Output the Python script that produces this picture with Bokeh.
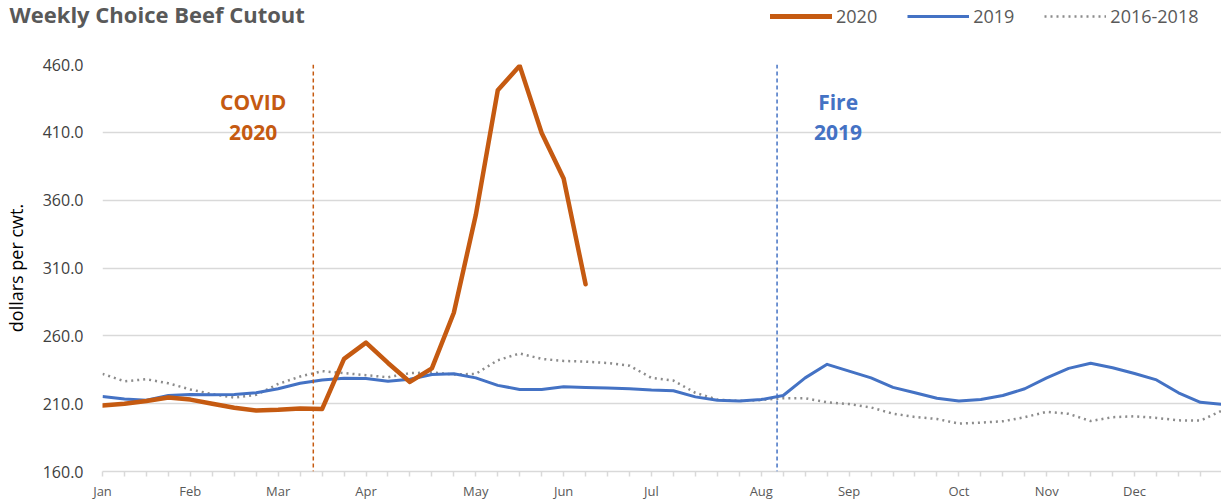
from bokeh.plotting import figure
from bokeh.layouts import column
from bokeh.models import Range1d, FixedTicker, Span, Label, Legend, LegendItem
from bokeh.embed import file_html
from bokeh.resources import INLINE

# ---------------- data ----------------
weeks = list(range(52))
month_labels = ["Jan", "Feb", "Mar", "Apr", "May", "Jun", "Jul", "Aug", "Sep", "Oct", "Nov", "Dec"]
month_weeks = [0, 4, 8, 12, 17, 21, 25, 30, 34, 39, 43, 47]

y_ticks = [160, 210, 260, 310, 360, 410, 460]
y_tick_labels = ["160.0", "210.0", "260.0", "310.0", "360.0", "410.0", "460.0"]

cutout_2020 = [208.6, 210.0, 212.0, 214.5, 213.0, 210.0, 207.0, 205.0, 205.5, 206.5,
               206.0, 243.0, 255.0, 240.0, 226.0, 236.0, 277.0, 349.0, 441.0, 459.0,
               409.5, 376.0, 298.0]

cutout_2019 = [215.3, 213.5, 212.5, 216.0, 216.7, 216.5, 216.8, 218.0, 221.0, 225.0,
               227.5, 228.8, 228.5, 226.5, 228.0, 231.5, 232.0, 229.0, 223.5, 220.5,
               220.5, 222.5, 222.0, 221.5, 221.0, 220.0, 219.5, 215.0, 212.5, 212.0,
               213.0, 216.0, 229.0, 239.0, 234.0, 229.0, 222.0, 218.0, 214.0, 212.0,
               213.0, 216.0, 221.0, 229.0, 236.0, 239.8, 236.5, 232.2, 227.5, 218.0,
               211.0, 209.5]

cutout_2016_2018 = [232.0, 226.5, 228.0, 225.0, 220.5, 217.0, 214.5, 216.5, 224.5, 230.0,
                    234.0, 232.5, 231.0, 229.5, 232.5, 233.0, 231.5, 232.0, 242.0, 247.0,
                    243.0, 241.5, 241.0, 240.0, 238.0, 229.0, 227.0, 218.0, 213.0, 212.0,
                    212.7, 214.0, 214.0, 211.0, 209.7, 207.2, 202.6, 200.2, 198.7, 195.3,
                    196.0, 197.0, 200.0, 204.0, 202.5, 197.2, 200.0, 200.7, 199.5, 197.7,
                    197.5, 205.0]

series_names = ["2020", "2019", "2016-2018"]
series_data = [cutout_2020, cutout_2019, cutout_2016_2018]
series_colors = ["#C55A11", "#4472C4", "#8C8C8C"]
series_widths = [4.5, 3, 2.5]
series_dashes = ["solid", "solid", "2 4"]

event_titles = ["COVID", "Fire"]
event_years = ["2020", "2019"]
event_weeks = [9.6, 30.72]
event_label_weeks = [6.86, 33.5]
event_colors = ["#C55A11", "#4472C4"]

chart_title = "Weekly Choice Beef Cutout"
FONT = "Open Sans"

W = 1221
TOP_H = 46
MAIN_H = 456


def no_align(fig):
    if "frame_align" in fig.properties():
        fig.frame_align = False


# ---------------- header (title + legend) ----------------
top = figure(width=W, height=TOP_H, x_range=Range1d(0, W), y_range=Range1d(0, TOP_H),
             output_backend="svg", toolbar_location=None, title=None,
             x_axis_location=None, y_axis_location=None,
             min_border=0, min_border_left=0, min_border_right=0,
             min_border_top=0, min_border_bottom=0)
top.outline_line_color = None
top.grid.visible = False
no_align(top)

top.add_layout(Label(x=9, y=33, text=chart_title, text_font=FONT,
                     text_font_size="22px", text_font_style="bold", text_color="#595959",
                     text_align="left", text_baseline="middle"))

# legend key renderers: one-vertex lines (draw nothing themselves)
keys = []
for data, col, lw, dash in zip(series_data, series_colors, series_widths, series_dashes):
    keys.append(top.line(x=weeks[:1], y=data[:1], line_color=col,
                         line_width=lw + (0.5 if lw > 4 else 0), line_dash=dash,
                         line_cap="round" if lw > 4 else "butt"))

legend = Legend(items=[LegendItem(label=n, renderers=[r]) for n, r in zip(series_names, keys)],
                orientation="horizontal", location=(770, 18),
                padding=0, margin=0, spacing=30, label_standoff=4,
                glyph_width=62, glyph_height=20,
                border_line_color=None, background_fill_alpha=0,
                label_text_font=FONT, label_text_font_size="18px",
                label_text_color="#595959")
top.add_layout(legend)

# ---------------- main chart ----------------
p = figure(width=W, height=MAIN_H,
           x_range=Range1d(0, 50.96), y_range=Range1d(160, 460),
           output_backend="svg", toolbar_location=None, title=None,
           min_border_left=102, min_border_right=0, min_border_top=18, min_border_bottom=31)
p.outline_line_color = None
no_align(p)

p.xaxis.ticker = FixedTicker(ticks=weeks)
lab = dict(zip(month_weeks, month_labels))
p.xaxis.major_label_overrides = {w: lab.get(w, "") for w in weeks}
p.xaxis.axis_line_color = "#D9D9D9"
p.xaxis.axis_line_width = 1.5
p.xaxis.major_tick_line_color = "#D9D9D9"
p.xaxis.major_tick_line_width = 1.5
p.xaxis.major_tick_out = 5
p.xaxis.major_tick_in = 0
p.xaxis.minor_tick_line_color = None
p.xaxis.major_label_text_font = FONT
p.xaxis.major_label_text_font_size = "13px"
p.xaxis.major_label_text_color = "#595959"
p.xaxis.major_label_standoff = 5

p.yaxis.ticker = FixedTicker(ticks=y_ticks)
p.yaxis.major_label_overrides = dict(zip(y_ticks, y_tick_labels))
p.yaxis.axis_line_color = None
p.yaxis.major_tick_line_color = None
p.yaxis.minor_tick_line_color = None
p.yaxis.major_tick_out = 0
p.yaxis.major_tick_in = 0
p.yaxis.major_label_standoff = 19
p.yaxis.major_label_text_font = FONT
p.yaxis.major_label_text_font_size = "16px"
p.yaxis.major_label_text_color = "#404040"
p.yaxis.axis_label = "dollars per cwt."
p.yaxis.axis_label_text_font = FONT
p.yaxis.axis_label_text_font_size = "18px"
p.yaxis.axis_label_text_font_style = "normal"
p.yaxis.axis_label_text_color = "#000000"
p.yaxis.axis_label_standoff = 12

p.xgrid.visible = False
p.ygrid.ticker = FixedTicker(ticks=y_ticks)
p.ygrid.grid_line_color = "#D9D9D9"
p.ygrid.grid_line_width = 1.5

for wk, col in zip(event_weeks, event_colors):
    p.add_layout(Span(location=wk, dimension="height", line_color=col,
                      line_dash="4 3", line_width=1.5))

p.line(weeks, cutout_2016_2018, line_color=series_colors[2], line_width=series_widths[2],
       line_dash=series_dashes[2])
p.line(weeks, cutout_2019, line_color=series_colors[1], line_width=series_widths[1],
       line_join="round")
p.line(weeks[:len(cutout_2020)], cutout_2020, line_color=series_colors[0],
       line_width=series_widths[0], line_join="round", line_cap="round")

for t, yr, wk, col in zip(event_titles, event_years, event_label_weeks, event_colors):
    for txt, yv in ((t, 432), (yr, 410)):
        p.add_layout(Label(x=wk, y=yv, text=txt, text_font=FONT, text_font_size="21px",
                           text_font_style="bold", text_color=col,
                           text_align="center", text_baseline="middle"))

layout = column(top, p, spacing=0)
open("out.html", "w").write(file_html(layout, INLINE))
